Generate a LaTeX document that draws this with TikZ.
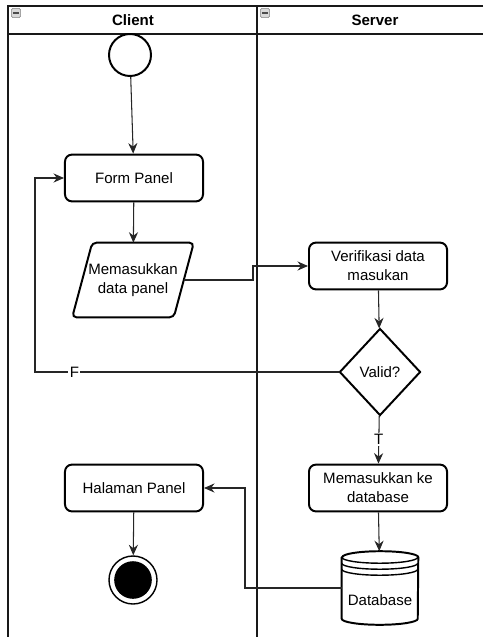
\documentclass[tikz,border=0pt]{standalone}
\usepackage{fontspec}
\setmainfont{Liberation Sans}
\usetikzlibrary{arrows.meta,shapes.geometric}

\tikzstyle{flow}=[every node/.style={font=\fontsize{10.7}{13.5}\selectfont,text=black},
                x=0.025cm, y=-0.025cm, >={Stealth[length=7.5pt,width=6.5pt,inset=2.5pt]}]
\tikzstyle{proc}=[draw, line width=1.4pt, rounded corners=5pt, minimum width=3.45cm,
                minimum height=1.17cm, align=center, inner sep=0]
\tikzstyle{io}=[minimum width=3.025cm, minimum height=1.85cm, align=center, inner sep=0]
\tikzstyle{ioline}=[line width=1.4pt, rounded corners=3pt]
\tikzstyle{decide}=[diamond, draw, line width=1.4pt, minimum width=2.025cm,
                minimum height=2.175cm, inner sep=0]
\tikzstyle{startdot}=[circle, draw, line width=1.4pt, minimum size=1.05cm]
\tikzstyle{stopdot}=[circle, draw, line width=1pt, minimum size=1.2cm,
                path picture={\fill (path picture bounding box.center) circle (0.47cm);}]
\tikzstyle{dbshape}=[minimum width=1.9cm, minimum height=1.825cm, inner sep=0]
\tikzstyle{lane}=[line width=1.1pt, black!90]
\tikzstyle{lhead}=[font=\fontsize{10.7}{13}\selectfont\bfseries]
\tikzstyle{icon}=[draw=gray, fill=gray!30, minimum size=0.23cm, inner sep=0, rounded corners=1pt,
                path picture={\draw[line width=1pt, black!70]
                ([xshift=1.4pt]path picture bounding box.west) --
                ([xshift=-1.4pt]path picture bounding box.east);}]
\tikzstyle{conn}=[->, line width=0.75pt, black!85]
\tikzstyle{flab}=[fill=white, inner sep=1pt]

\begin{document}
\begin{tikzpicture}[flow]
  \useasboundingbox (0,0) rectangle (483,637);
  % swimlanes
  \draw[lane] (483,6) -- (8,6) -- (8,637);
  \draw[lane] (8,34) -- (483,34);
  \draw[lane] (257,6) -- (257,637);
  \node[icon] (iconA) at (16,13) {};
  \node[icon] (iconB) at (265,13) {};
  \node[lhead] (lclient) at (133,20) {Client};
  \node[lhead] (lserver) at (375,20) {Server};

  % client side
  \node[startdot] (start) at (130,55) {};
  \node[proc] (form) at (134,178) {Form Panel};
  \node[io] (input) at (133,280) {Memasukkan\\data panel};
  \draw[ioline] ([xshift=0.5cm]input.north west) -- (input.north east)
    -- ([xshift=-0.5cm]input.south east) -- (input.south west) -- cycle;
  \node[proc] (home) at (134,488) {Halaman Panel};
  \node[stopdot] (stop) at (133,580) {};

  % server side
  \node[proc] (verify) at (378,266) {Verifikasi data\\masukan};
  \node[decide] (valid) at (380,372) {Valid?};
  \node[proc] (save) at (378,488) {Memasukkan ke\\database};
  \node[dbshape] (db) at (380,588) {};
  \draw[line width=1.4pt, line join=round]
    ([yshift=-0.15cm]db.north west) -- ([yshift=0.15cm]db.south west)
    arc[start angle=180, end angle=360, x radius=0.95cm, y radius=0.15cm]
    -- ([yshift=-0.15cm]db.north east)
    arc[start angle=0, end angle=180, x radius=0.95cm, y radius=0.15cm] -- cycle;
  \foreach \d in {0.15,0.3,0.45}
    \draw[line width=1pt] ([yshift=-\d cm]db.north west)
      arc[start angle=180, end angle=360, x radius=0.95cm, y radius=0.15cm];
  \node (dblabel) at (380,600) {Database};

  \path[conn]
    (start) edge (form)
    (form) edge (input)
    (verify) edge (valid)
    (valid) edge node[flab] {T} (save)
    (save) edge (db)
    (home) edge (stop);
  \draw[conn] ([xshift=-0.25cm]input.east) -- (253,280) |- (verify.west);
  \draw[conn] (valid.west) -- node[flab, pos=0.87] {F} (35,372) |- (form.west);
  \draw[conn] (db.west) -- (245,588) |- (home.east);
\end{tikzpicture}
\end{document}
